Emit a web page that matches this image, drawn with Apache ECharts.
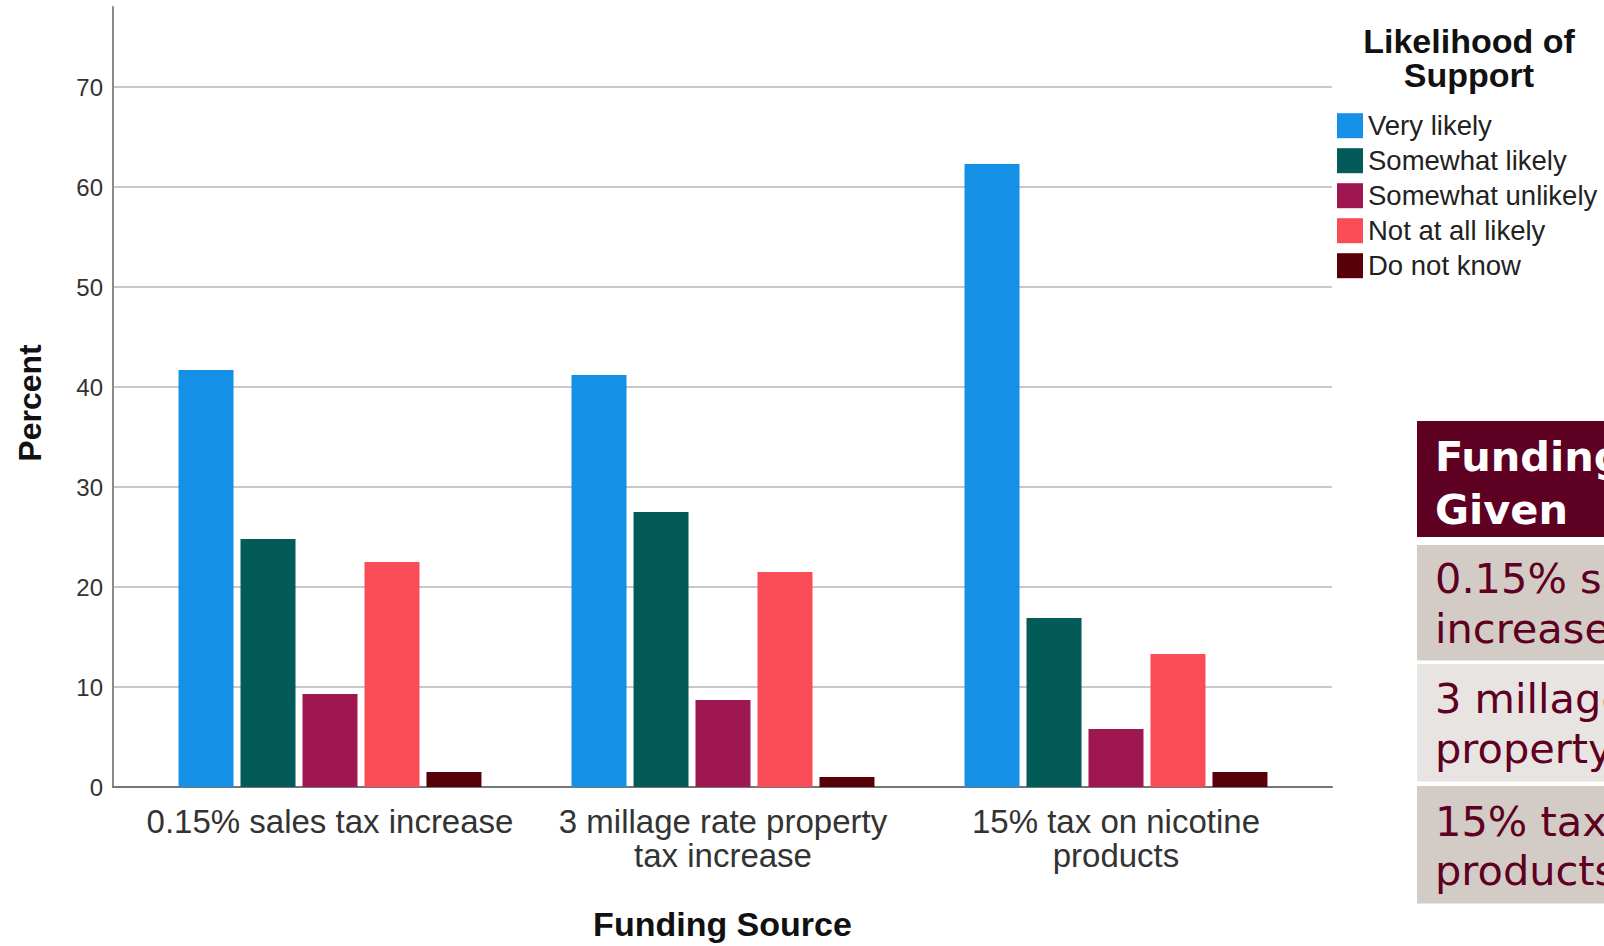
<!DOCTYPE html>
<html>
<head>
<meta charset="utf-8">
<style>
  html, body { margin: 0; padding: 0; background: #ffffff; overflow: hidden; }
  #chart { width: 1604px; height: 946px; }
</style>
<script src="https://cdn.jsdelivr.net/npm/echarts@6/dist/echarts.min.js"></script>
</head>
<body>
<div id="chart"></div>
<script>
// ---- data ----
var categories = ['0.15% sales tax increase', '3 millage rate property\ntax increase', '15% tax on nicotine\nproducts'];
var seriesNames = ['Very likely', 'Somewhat likely', 'Somewhat unlikely', 'Not at all likely', 'Do not know'];
var veryLikely = [41.7, 41.2, 62.3];
var somewhatLikely = [24.8, 27.5, 16.9];
var somewhatUnlikely = [9.3, 8.7, 5.8];
var notAtAllLikely = [22.5, 21.5, 13.3];
var doNotKnow = [1.5, 1.0, 1.5];
var yTicks = [0, 10, 20, 30, 40, 50, 60, 70];
var legendTitle = ['Likelihood of', 'Support'];
var tableHeader = ['Funding Source', 'Given'];
var tableRows = [
  ['0.15% sales tax', 'increase'],
  ['3 millage rate', 'property tax increase'],
  ['15% tax on nicotine', 'products']
];

// ---- styles ----
var colors = ['#1490e6', '#025b58', '#9e1750', '#fa4c56', '#580008'];
var FONT = '"Liberation Sans", Arial, sans-serif';
var TFONT = '"DejaVu Sans", Verdana, sans-serif';
var maroon = '#5e0021';

var allValues = [veryLikely, somewhatLikely, somewhatUnlikely, notAtAllLikely, doNotKnow];

var chart = echarts.init(document.getElementById('chart'), null, { renderer: 'svg' });

var series = allValues.map(function (vals, i) {
  return {
    name: seriesNames[i],
    type: 'bar',
    xAxisIndex: 1,
    yAxisIndex: 1,
    data: vals,
    barWidth: 55,
    barGap: '12.7%',
    itemStyle: { color: colors[i] },
    emphasis: { disabled: true },
    animation: false
  };
});

var graphics = [];
// axis titles
graphics.push({
  type: 'text', x: 29.5, y: 403, rotation: Math.PI / 2,
  style: { text: 'Percent', fill: '#111', font: 'bold 32px ' + FONT, align: 'center', verticalAlign: 'middle' }
});
graphics.push({
  type: 'text', x: 722.5, y: 923.5,
  style: { text: 'Funding Source', fill: '#111', font: 'bold 34px ' + FONT, align: 'center', verticalAlign: 'middle' }
});
// legend title
graphics.push({
  type: 'text', x: 1469, y: 40.8,
  style: { text: legendTitle[0], fill: '#111', font: 'bold 34px ' + FONT, align: 'center', verticalAlign: 'middle' }
});
graphics.push({
  type: 'text', x: 1469, y: 75,
  style: { text: legendTitle[1], fill: '#111', font: 'bold 34px ' + FONT, align: 'center', verticalAlign: 'middle' }
});

// side table
var tableX = 1417, textX = 1435;
var rowBoxes = [[421, 116], [545, 115.5], [664, 117.5], [786, 117.5]];
var rowFills = [maroon, '#d3ccc6', '#e8e4e1', '#d3ccc6'];
var firstLineCenters = [456.7, 578, 698.3, 821.3];
var lineSteps = [52.3, 50.6, 50, 49.5];
var tableLines = [tableHeader].concat(tableRows);
rowBoxes.forEach(function (b, i) {
  graphics.push({
    type: 'rect', shape: { x: tableX, y: b[0], width: 220, height: b[1] },
    style: { fill: rowFills[i] }, silent: true
  });
  tableLines[i].forEach(function (t, j) {
    graphics.push({
      type: 'text', x: textX, y: firstLineCenters[i] + j * lineSteps[i],
      style: {
        text: t,
        fill: i === 0 ? '#ffffff' : maroon,
        font: (i === 0 ? 'bold ' : '') + '41.5px ' + TFONT,
        align: 'left', verticalAlign: 'middle'
      }
    });
  });
});

var option = {
  backgroundColor: '#ffffff',
  animation: false,
  grid: [
    { left: 113, right: 272, top: 7, bottom: 159, outerBoundsMode: 'none', containLabel: false },
    { left: 133.5, right: 291.5, top: 7, bottom: 159, outerBoundsMode: 'none', containLabel: false }
  ],
  xAxis: [
    {
      gridIndex: 0, type: 'value', min: 0, max: 1,
      axisLine: { show: true, onZero: true, lineStyle: { color: '#767676', width: 2 } },
      axisTick: { show: false }, axisLabel: { show: false }, splitLine: { show: false }
    },
    {
      gridIndex: 1, type: 'category', data: categories,
      axisLine: { show: false }, axisTick: { show: false }, splitLine: { show: false },
      axisLabel: {
        interval: 0, margin: 17, color: '#333', fontFamily: FONT, fontSize: 33, lineHeight: 34,
        verticalAlign: 'top'
      }
    }
  ],
  yAxis: [
    {
      gridIndex: 0, type: 'value', min: 0, max: 78, interval: 10,
      axisLine: { show: true, lineStyle: { color: '#8a8a8a', width: 2 } },
      axisTick: { show: false },
      axisLabel: {
        show: true, showMaxLabel: false, margin: 10, color: '#333', fontFamily: FONT, fontSize: 24,
        padding: [8, 0, 0, 0],
        formatter: function (v) { return yTicks.indexOf(v) >= 0 ? String(v) : ''; }
      },
      splitLine: { show: true, showMaxLine: false, lineStyle: { color: '#c8c8c8', width: 2 } }
    },
    {
      gridIndex: 1, type: 'value', min: 0, max: 78, interval: 10, show: false,
      splitLine: { show: false }
    }
  ],
  legend: {
    data: seriesNames,
    orient: 'vertical',
    left: 1337, top: 111.7,
    itemWidth: 26, itemHeight: 25, itemGap: 7,
    icon: 'rect',
    selectedMode: false,
    padding: 0,
    textStyle: { color: '#222', fontFamily: FONT, fontSize: 27.5, lineHeight: 25 }
  },
  tooltip: { show: false },
  graphic: graphics,
  series: series
};

chart.setOption(option);
</script>
</body>
</html>
